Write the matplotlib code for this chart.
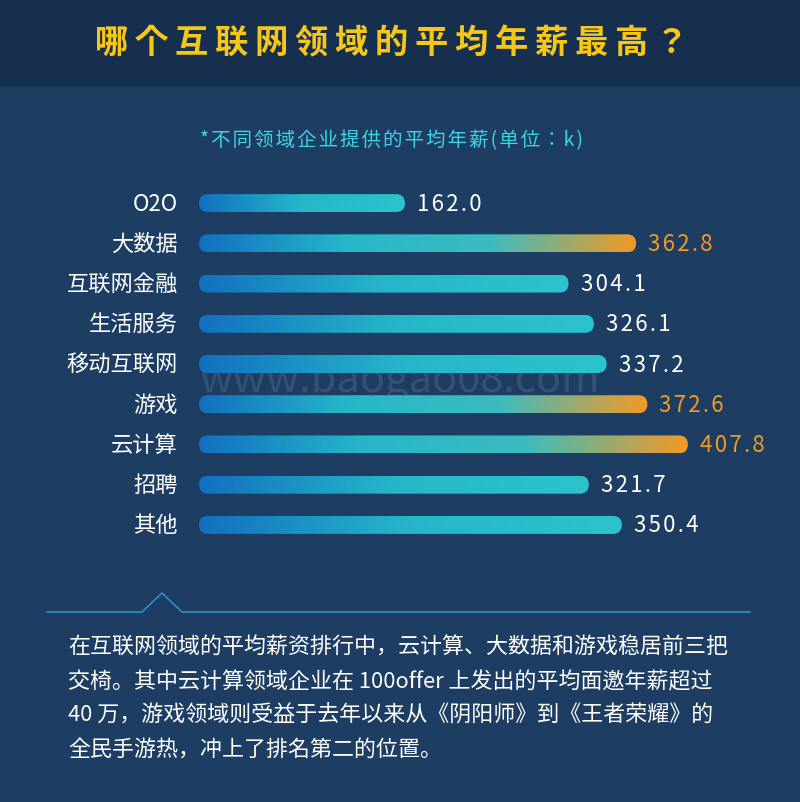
import matplotlib
matplotlib.use("Agg")
import matplotlib.pyplot as plt
import numpy as np
from matplotlib.patches import FancyBboxPatch, Rectangle
from matplotlib.colors import LinearSegmentedColormap
from matplotlib import font_manager as fm

cjk = None
for f in fm.findSystemFonts():
    if 'CJK' in f and ('SC' in f or 'sc' in f.lower()):
        cjk = f; break
if cjk is None:
    for f in fm.findSystemFonts():
        if 'CJK' in f:
            cjk = f; break
if cjk:
    fm.fontManager.addfont(cjk)
    name = fm.FontProperties(fname=cjk).get_name()
    plt.rcParams['font.family'] = [name, 'DejaVu Sans']
else:
    plt.rcParams['font.family'] = ['Noto Sans CJK SC', 'DejaVu Sans']

categories = ["O2O", "大数据", "互联网金融", "生活服务", "移动互联网", "游戏", "云计算", "招聘", "其他"]
values = [162.0, 362.8, 304.1, 326.1, 337.2, 372.6, 407.8, 321.7, 350.4]
highlight = [False, True, False, False, False, True, True, False, False]
title = "哪个互联网领域的平均年薪最高？"
subtitle = "*不同领域企业提供的平均年薪(单位：k)"
paragraph = ["在互联网领域的平均薪资排行中，云计算、大数据和游戏稳居前三把",
             "交椅。其中云计算领域企业在 100offer 上发出的平均面邀年薪超过",
             "40 万，游戏领域则受益于去年以来从《阴阳师》到《王者荣耀》的",
             "全民手游热，冲上了排名第二的位置。"]

W, H = 800, 803
fig = plt.figure(figsize=(W/100, H/100), dpi=100)
fig.patch.set_facecolor('#1d3d63')
bg = fig.add_axes([0, 0, 1, 1])
bg.set_xlim(0, W); bg.set_ylim(H, 0); bg.axis('off')
bg.add_patch(Rectangle((0, 0), W, 86, color='#162f4f'))
bg.text(392, 44, "\u2009".join(title), color='#f6c619', fontsize=24, ha='center', va='center', fontweight='bold')
bg.text(391, 141, "\u200a".join(subtitle), color='#3fd3e6', fontsize=14, ha='center', va='center')
bg.text(400, 380, "www.baogao08.com", color='#8090a8', alpha=0.25, fontsize=30, ha='center', va='center')
bg.plot([47, 142, 162, 182, 750], [613, 613, 594, 613, 613], color='#2b8fc4', lw=1.2)
for i, line in enumerate(paragraph):
    bg.text(68, 648 + i*34, line, color='white', fontsize=15.8, ha='left', va='center')

x0, x1 = 199, 780
ytop, ybot = 184, 546
ax = fig.add_axes([x0/W, 1-ybot/H, (x1-x0)/W, (ybot-ytop)/H])
ax.axis('off')
scale = 1.151  # px per k
offset = 19.5 / scale
n = len(categories)
ypx = n / (ybot - ytop)
bh = 18 * ypx
blue_cyan = LinearSegmentedColormap.from_list('bc', ['#1270c0', '#25b7c9', '#2cc4cc'])
blue_orange = LinearSegmentedColormap.from_list('bo', ['#1270c0', '#25b7c9', '#3cbcc0', '#f39a24'])
for i, (c, v, h) in enumerate(zip(categories, values, highlight)):
    length = v + offset
    patch = FancyBboxPatch((0, i - bh/2), length, bh,
                           boxstyle=f"round,pad=0,rounding_size={9/scale}",
                           mutation_aspect=ypx * scale,
                           facecolor='none', edgecolor='none')
    ax.add_patch(patch)
    grad = np.linspace(0, 1, 256).reshape(1, -1)
    im = ax.imshow(grad, extent=[0, length, i + bh/2, i - bh/2], aspect='auto',
                   cmap=blue_orange if h else blue_cyan, zorder=2)
    im.set_clip_path(patch)
    ax.text(length + 12/scale, i, "\u200a".join(f"{v:.1f}"), color='#f39a24' if h else 'white',
            fontsize=16, ha='left', va='center')
    ax.text(-21/scale, i, c, color='white', fontsize=16, ha='right', va='center', clip_on=False)
ax.set_xlim(0, (x1-x0)/scale)
ax.set_ylim(n - 0.5, -0.5)

fig.savefig('out.png', dpi=100, facecolor=fig.get_facecolor())
